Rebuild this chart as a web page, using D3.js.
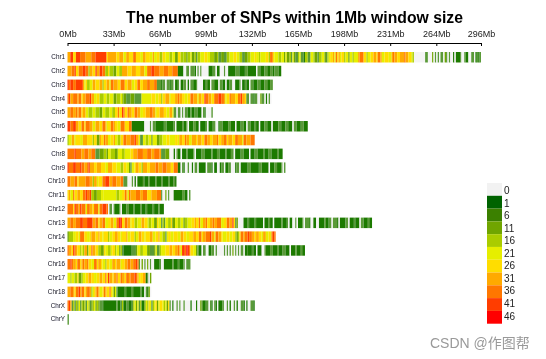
<!DOCTYPE html>
<html>
<head>
<meta charset="utf-8">
<script src="https://d3js.org/d3.v7.min.js"></script>
<style>
  body { margin: 0; background: #fff; }
  svg { display: block; font-family: "Liberation Sans", Arial, sans-serif; }
</style>
</head>
<body>
<div id="container"></div>
<script>
/* DATA - [SNP count, run length in Mb] read along each chromosome */
const chrNames = ["Chr1","Chr2","Chr3","Chr4","Chr5","Chr6","Chr7","Chr8","Chr9","Chr10","Chr11","Chr12","Chr13","Chr14","Chr15","Chr16","Chr17","Chr18","ChrX","ChrY"]
const tickMb = [0,33,66,99,132,165,198,231,264,296]
const legendValues = [0,1,6,11,16,21,26,31,36,41,46]
const legendColors = ["#f2f2f2","#006400","#3a8000","#6fa500","#aacc00","#e6ee00","#ffdd00","#ffaa00","#ff7700","#ff3c00","#ff0000"]
// the bars are washed out by resampling in the reference, greens read lighter than the legend
const barColors = ["#f4f4f4","#1f7a05","#5a9a38","#6fa500","#aacc00","#e6ee00","#ffdd00","#ffaa00","#ff7700","#ff3c00","#ff0000"]

const chr1 = [[31,2],[41,2],[26,2],[41,3],[36,4],[31,4],[36,3],[41,8],[26,1],[31,6],[26,2],[31,3],[21,2],[31,2],[26,3],[36,2],[26,3],[21,2],[31,2],[26,3],[21,2],[31,1],[21,2],[26,2],[16,2],[26,2],[21,3],[16,2],[21,2],[11,2],[26,2],[16,2],
  [16,2],[11,1],[16,2],[21,1],[11,2],[16,1],[6,1],[16,2],[21,3],[26,2],[21,2],[16,3],[11,2],[16,1],[6,2],[11,2],[6,2],[16,2],[21,3],[26,2],[21,2],[16,2],[6,2],[11,2],[16,2],[21,3],[26,1],[21,2],[16,1],
  [21,4],[26,2],[16,1],[36,2],[26,1],[21,3],[16,2],[21,2],[11,1],[21,1],[11,2],[16,1],[6,1],[21,1],[11,1],[6,2],[16,1],[21,1],[6,2],[1,1],[16,2],[6,2],[21,2],[16,1],[11,2],[6,1],[16,2],[21,2],[11,1],[6,1],[16,1],[21,1],[26,2],[31,1],[21,1],[36,1],[26,1],[31,1],[21,1],[26,2],[16,1],[21,2],[11,1],[21,2],[16,1],
  [21,3],[31,1],[36,3],[26,2],[16,1],[21,2],[26,2],[31,2],[26,1],[36,2],[31,1],[21,2],[26,3],[21,2],[31,1],[36,1],[31,2],[26,2],[31,3],[36,1],[31,2],[26,2],[21,1],[16,1],
  [0,8],[6,2],[0,3],[11,1],[0,1],[6,1],[0,1],[6,1],[0,1],[6,2],[0,1],[11,1],[6,1],[0,1],[6,1],[0,2],[1,1],[0,1],[1,3],[6,1],[0,2],[6,1],[1,2],[0,2],[6,2],[0,1],[1,1],[6,1],[1,1],[6,1]]
const chr2 = [[31,3],[36,2],[41,1],[26,2],[36,3],[41,2],[36,2],[16,1],[31,2],[26,2],[41,1],[31,2],[41,2],[36,2],[16,2],[26,1],[16,3],[11,2],[21,2],[16,2],[31,4],[26,3],[31,3],[26,3],[31,3],[21,2],[36,3],[41,2],[36,4],[31,3],[36,3],[31,3],[36,4],
  [1,4],[0,2],[6,2],[0,1],[6,3],[1,1],[0,1],[6,1],[0,1],[6,1],[0,5],[1,3],[6,2],[0,1],[1,2],[0,3],[6,1],[0,2],[1,5],[6,3],[1,4],[6,2],[1,6],[0,1],[6,2],[1,3],[6,2],[1,2],[6,2],[1,1],[6,3],[1,2]]
const chr3 = [[41,1],[36,1],[41,2],[36,2],[41,5],[31,1],[21,1],[26,1],[16,2],[21,2],[31,2],[26,3],[31,2],[16,1],[26,2],[31,2],[21,1],[36,2],[31,3],[26,2],[36,3],[26,2],[31,3],[21,2],[26,2],[36,2],[26,2],[31,3],[36,2],[31,3],[36,2],
  [6,3],[1,1],[6,2],[0,1],[6,2],[1,1],[6,2],[0,1],[1,2],[6,1],[0,1],[1,2],[6,2],[0,1],[1,1],[0,1],[6,2],[1,2],[6,1],[0,4],[1,2],[6,1],[1,2],[0,1],[6,2],[1,3],[0,1],[6,2],[1,2],[0,1],[1,2],[6,2],[0,2],[1,3],[6,1],[0,1],[1,2],[6,1],[1,2],[0,1],[6,2],[1,3],[6,2],[1,3],[6,2],[1,2],[6,2]]
const chr4 = [[36,1],[41,1],[31,2],[36,3],[31,1],[36,2],[26,1],[31,2],[36,3],[41,1],[31,2],[21,2],[26,2],[16,3],[21,2],[16,2],[21,3],[11,2],[16,3],[21,1],[16,1],[11,2],[6,3],[11,3],[6,5],
  [21,7],[26,3],[21,2],[26,2],[16,1],[26,2],[31,3],[21,1],[26,3],[31,2],[36,1],[31,2],[26,2],[21,2],[26,2],[36,2],[31,3],[21,1],[31,2],[26,2],[41,1],[36,2],[31,2],[26,2],[36,3],[41,2],[36,2],[31,1],[21,1],[26,2],[36,1],[31,3],[26,2],[36,2],[41,1],[31,2],[26,1],
  [6,2],[0,1],[6,2],[1,1],[6,2],[0,2],[11,1],[6,2],[0,1],[1,1],[0,1],[6,1],[0,1]]
const chr5 = [[31,2],[36,2],[31,2],[36,1],[31,1],[36,2],[26,1],[31,2],[21,2],[16,3],[21,2],[16,3],[11,2],[21,2],[16,3],[21,2],[16,2],[26,2],[36,1],[26,2],[41,1],[36,1],[26,2],[36,1],[31,2],[26,2],[36,2],[31,2],[21,2],[26,2],[31,3],[36,2],[31,2],[21,1],[26,2],[31,3],[26,2],[21,2],[31,2],[21,1],
  [6,2],[0,1],[6,2],[0,1],[6,1],[0,1],[6,2],[1,2],[6,1],[1,2],[6,2],[1,3],[0,1],[6,1],[1,1],[0,1],[0,3],[6,1]]
const chr6 = [[41,2],[36,2],[41,2],[31,2],[26,2],[36,2],[26,1],[36,3],[31,2],[21,2],[31,3],[26,2],[36,2],[31,1],[21,1],[26,2],[36,2],[31,1],[26,2],[21,2],[36,3],[26,3],[36,2],
  [1,9],[0,4],[6,1],[0,1],[6,2],[1,6],[6,2],[1,5],[6,1],[0,1],[1,4],[6,1],[1,2],[6,1],[0,1],[1,3],[6,2],[1,2],[0,1],[1,4],[6,1],[0,1],[1,3],[6,2],[0,2],[1,1],[6,2],
  [1,4],[6,2],[1,3],[0,1],[1,3],[6,2],[1,2],[0,1],[6,2],[1,3],[6,1],[1,2],[0,1],[1,3],[6,2],[1,3],[0,1],[1,4],[6,2],[1,3],[6,2],[1,3],[0,1],[6,2],[1,3],[6,2],[1,3]]
const chr7 = [[16,1],[21,2],[31,2],[21,1],[26,3],[21,2],[31,3],[26,4],[16,1],[26,2],[11,2],[31,1],[26,2],[36,1],[31,2],[21,2],[26,2],[31,1],[21,2],[16,2],[26,2],[36,2],[31,3],[36,3],[41,1],[31,2],[21,1],[6,2],[21,2],[16,2],[21,2],[11,1],[21,3],[11,2],[16,2],[21,3],[26,2],[21,4],[26,2],[21,1],[31,2],[26,2],[36,1],[31,2],[21,2],[31,3],[26,1],[31,3],[26,2],[36,2],[31,2],[26,2],[31,3],[36,1],[26,2],[31,2],[36,2],[26,1],[31,3],[26,2],[36,2],[31,3],[21,1],[36,2],[31,3],[36,3]]
const chr8 = [[36,5],[41,1],[36,4],[31,2],[36,3],[31,2],[36,3],[6,3],[11,3],[16,2],[11,1],[21,2],[16,3],[11,2],[21,3],[16,2],[21,4],[26,2],[31,3],[36,4],[31,3],[36,3],[31,2],[36,4],[31,1],
  [6,3],[11,3],[0,3],[1,1],[0,1],[6,1],[1,2],[0,1],[1,3],[6,1],[1,4],[6,1],[0,1],[1,4],[6,2],[1,5],[6,1],[1,3],[6,2],[1,4],[6,1],[1,3],[6,2],[0,1],[1,4],[6,2],[1,4],[0,1],[1,3],[6,2],[1,4],[6,1],[1,3],[6,2],[1,4],[6,1],[1,3]]
const chr9 = [[41,1],[36,3],[41,2],[36,3],[41,1],[36,2],[31,2],[36,1],[41,1],[31,3],[26,2],[31,3],[26,3],[21,2],[31,3],[26,3],[21,3],[16,2],[26,2],[21,2],[11,1],[6,1],[21,2],[26,1],[31,2],[26,2],[16,1],[31,3],[26,2],[31,4],[36,2],[31,3],[36,3],[31,3],[26,2],[36,3],
  [1,2],[0,1],[6,1],[1,1],[0,2],[6,1],[0,2],[1,1],[0,1],[6,2],[0,1],[1,5],[0,1],[6,3],[1,1],[0,1],[1,2],[0,2],[1,1],[6,2],[0,1],[1,2],[6,2],[0,3],[1,1],[6,2],[0,1],[1,5],[6,2],[1,6],[6,2],[1,5],[0,1],[1,3],[6,2],[1,3],[6,1],[0,1],[6,1]]
const chr10 = [[36,2],[31,3],[36,2],[26,1],[31,5],[36,3],[31,2],[16,1],[31,2],[21,1],[26,3],[36,2],[41,3],[31,2],[36,3],[31,3],[36,2],
  [6,3],[0,3],[6,1],[0,1],[1,1],[0,1],[1,4],[6,1],[1,3],[6,1],[1,4],[6,1],[1,3],[6,1],[1,4],[6,1],[1,3],[6,1],[1,1]]
const chr11 = [[26,1],[31,1],[21,2],[36,1],[26,2],[31,2],[26,2],[36,2],[41,1],[36,2],[41,1],[16,2],[11,2],[16,3],[21,2],[21,9],[16,2],[21,2],[26,2],[36,1],[31,1],[21,1],[36,1],[31,4],[36,3],[31,2],[36,3],[26,3],[31,4],[36,3],
  [6,1],[0,2],[11,1],[0,1],[6,1],[0,3],[1,6],[6,2],[1,2],[0,1],[6,1]]
const chr12 = [[36,4],[26,1],[41,1],[36,2],[31,1],[41,1],[36,3],[21,1],[36,2],[31,2],[26,1],[36,3],[21,1],[36,2],[41,3],[36,1],
  [0,1],[6,2],[0,1],[6,1],[1,3],[6,1],[0,1],[1,3],[6,2],[1,3],[6,1],[1,4],[6,1],[1,3],[6,1],[1,4],[6,1],[1,3],[6,1],[1,3]]
const chr13 = [[31,2],[36,2],[31,2],[36,3],[41,2],[36,3],[41,4],[31,2],[36,2],[26,1],[31,2],[36,2],[21,2],[26,2],[31,2],[21,2],[36,2],[46,1],[41,1],[26,2],[36,2],[31,2],[21,1],[26,2],[16,2],[21,3],[31,2],[26,2],[21,1],[16,2],[21,2],[11,2],[26,1],[21,2],[6,1],[16,1],[6,1],[21,2],[16,2],[26,1],[11,2],[21,2],[16,2],[21,2],[11,1],[16,2],[21,3],[26,2],[31,1],[26,2],[36,1],[21,2],[31,2],[36,1],[26,2],[31,2],[36,1],[31,2],[36,3],[21,2],[26,2],[36,2],[31,2],[41,1],[26,1],
  [6,1],[11,1],[0,4],[1,3],[6,1],[1,4],[6,1],[1,5],[0,1],[1,3],[6,1],[1,2],[0,1],[1,5],[6,1],[1,3],[6,1],[0,1],[1,2],[0,2],[6,1],[0,1],[1,3],[6,1],[0,1],[6,3],[1,1],[0,2],[1,2],[0,2],[1,4],[6,1],[1,2],[6,2],[0,1],[6,3],[1,1],[0,1],[1,4],[6,2],[0,1],[1,3],[6,1],[1,3],[0,1],[6,2],[1,3],[6,1],[1,2]]
const chr14 = [[11,1],[16,3],[21,2],[26,2],[21,1],[36,3],[26,2],[21,2],[26,1],[31,3],[26,2],[31,1],[26,2],[21,1],[26,3],[16,1],[21,2],[26,2],[31,2],[26,2],[21,1],[26,3],[31,1],[21,2],[26,3],[16,1],[21,2],[31,2],[26,2],[21,1],[26,3],[31,2],[21,2],[26,2],[31,1],[21,2],[16,2],[6,1],[21,1],[26,2],[21,2],[26,3],[21,2],[31,2],[26,2],[21,2],[26,3],[31,2],[26,2],[36,2],[26,1],[31,2],[36,3],[41,1],[31,2],[21,1],[36,2],[31,2],[26,1],[21,3],[26,2],
  [21,2],[26,2],[16,1],[11,1],[16,1],[26,1],[36,2],[31,1],[36,2],[41,1],[36,2],[31,2],[26,1],[31,2],[26,2],[21,1],[31,2],[21,2],[26,1],[21,1],[36,1],[41,1],[36,1]]
const chr15 = [[36,1],[31,2],[26,1],[41,1],[36,1],[31,1],[26,2],[16,1],[21,1],[16,1],[31,2],[11,1],[26,2],[36,1],[31,2],[26,2],[16,2],[11,2],[26,1],[21,2],[16,2],[21,1],[26,2],[16,1],[21,2],[11,1],[16,1],[6,1],[1,6],[6,3],[11,1],
  [21,2],[16,2],[21,3],[11,2],[6,3],[11,1],[21,1],[6,2],[16,1],[21,3],[26,3],[31,2],[26,2],[31,2],[36,1],[31,1],[21,1],[41,2],[36,1],[46,1],[41,1],[36,1],[26,2],[21,2],[11,1],[6,1],
  [1,2],[0,1],[6,2],[0,2],[1,2],[6,2],[0,1],[6,1],[0,5],[6,1],[0,1],[6,1],[0,1],[6,1],[0,1],[11,1],[0,1],[6,1],[0,1],[6,1],[0,1],[6,2],[0,1],[1,2],[1,3],[6,1],[1,2],[0,1],[1,3],[0,2],[6,1],[1,3],[6,2],[1,3],[6,1],[1,3],[6,2],[1,3],[0,1],[1,3],[6,1],[1,3],[6,1],[1,2]]
const chr16 = [[36,2],[41,1],[36,1],[31,2],[26,1],[36,2],[26,1],[31,1],[36,1],[31,2],[36,1],[26,2],[21,2],[36,2],[26,1],[31,2],[26,1],[21,2],[16,1],[26,2],[21,2],[31,2],[26,1],[31,3],[21,1],[26,2],[31,2],[36,2],[31,2],[36,2],[41,1],[36,1],
  [6,1],[0,1],[11,1],[0,1],[6,1],[0,1],[11,1],[0,1],[6,1],[0,2],[1,4],[6,1],[0,2],[1,6],[6,1],[1,3],[6,1],[1,3],[6,1],[0,1],[6,3]]
const chr17 = [[21,2],[16,1],[21,2],[16,2],[26,1],[11,2],[16,1],[21,2],[26,2],[31,2],[26,2],[21,2],[26,2],[31,2],[26,2],[36,1],[26,1],[41,1],[31,2],[26,1],[31,2],[36,1],[26,2],[36,1],[31,2],[26,1],[36,2],[31,1],[36,3],[41,1],[36,1],[31,1],[21,1],[26,2],[31,2],[1,1],[6,1],[0,1],[11,1]]
const chr18 = [[31,2],[36,2],[31,1],[26,1],[36,2],[41,1],[31,1],[36,2],[26,1],[31,1],[36,2],[31,1],[16,1],[21,1],[26,1],[31,1],[36,1],[31,1],[21,2],[26,1],[36,1],[31,1],[26,2],[36,1],[26,1],[21,1],[11,1],[21,1],[6,1],
  [1,5],[6,1],[1,4],[6,1],[1,5],[6,1],[1,2],[0,1],[6,1],[1,1],[11,1],[0,1]]
const chrX = [[36,1],[41,1],[31,1],[6,1],[16,1],[6,1],[16,1],[11,1],[21,1],[6,1],[16,1],[11,1],[16,1],[6,1],[21,1],[16,1],[6,1],[11,1],[16,1],[21,1],[11,1],[16,1],[11,1],[6,2],[1,1],
  [1,9],[6,1],[1,2],[6,1],[16,1],[1,2],[6,2],[1,2],[6,1],[16,1],[21,1],[11,1],[21,1],[6,1],[16,1],[1,2],[11,1],[21,1],[16,1],[26,1],[21,1],[6,1],[16,1],[21,1],[26,1],[11,1],[21,1],[26,2],[21,1],[16,1],[21,1],[11,1],[26,1],[6,1],
  [0,1],[1,1],[0,2],[6,1],[0,1],[6,1],[0,2],[6,1],[0,4],[1,1],[0,3],[1,1],[0,2],[11,1],[6,1],[1,2],[6,2],[0,1],[6,1],[1,1],[0,1],[6,1],[1,1],[0,1],[1,3],[6,1],[0,2],[6,1],[0,1],[1,1],[0,2],[6,1],[0,1],[1,1],[0,2],[6,2],[1,1],[0,1],[1,1],[0,2],[6,2],[1,1]]
const chrY = [[6,1]]
const chrRuns = [chr1,chr2,chr3,chr4,chr5,chr6,chr7,chr8,chr9,chr10,chr11,chr12,chr13,chr14,chr15,chr16,chr17,chr18,chrX,chrY]

/* SCALES */
const width = 546, height = 359
const xScale = d3.scaleLinear().domain([0, 296]).range([67.5, 481])
const yScale = d3.scaleBand().domain(chrNames).range([52, 324.7]).paddingInner(0.24)
const colorScale = d3.scaleOrdinal().domain(legendValues).range(legendColors)
const barColor = d3.scaleOrdinal().domain(legendValues).range(barColors)
const legendY = d3.scaleBand().domain(legendValues).range([183, 323.7])
const legendText = d3.scalePoint().domain(legendValues).range([190.5, 316])

/* HTML ELEMENTS */
const svg = d3.select("#container").append("svg")
  .attr("width", width)
  .attr("height", height)

// slight softness, the reference is a resampled screenshot
svg.append("filter").attr("id", "soft")
  .append("feGaussianBlur").attr("stdDeviation", 0.35)
svg.append("filter").attr("id", "softer")
  .append("feGaussianBlur").attr("stdDeviation", "0.6 0.45")
const chart = svg.append("g").attr("filter", "url(#soft)")

// title
chart.append("text")
  .attr("x", 294.5).attr("y", 23)
  .attr("text-anchor", "middle")
  .attr("font-size", 15.75).attr("font-weight", "bold")
  .attr("fill", "#000")
  .text("The number of SNPs within 1Mb window size")

// axis - ticks hang below the line, labels sit above it
const xAxis = d3.axisTop(xScale)
  .tickValues(tickMb)
  .tickFormat(d => d + "Mb")
  .tickSizeInner(-3)
  .tickSizeOuter(0)
  .tickPadding(6)
const axisG = chart.append("g")
  .attr("transform", "translate(0,43)")
  .call(xAxis)
axisG.selectAll("text").attr("font-size", 9).attr("font-family", "Liberation Sans").attr("fill", "#222")
axisG.selectAll("line, path").attr("stroke", "#000")

// chromosome rows
const rowData = chrNames.map((name, i) => {
  let start = 0
  const cells = chrRuns[i].map(([snps, len]) => {
    const c = { snps, start, end: start + len, name }
    start += len
    return c
  })
  return { name, cells }
})

const bars = svg.append("g").attr("filter", "url(#softer)")
bars.selectAll("g")
  .data(rowData)
  .join("g")
  .selectAll("rect")
  .data(d => d.cells)
  .join("rect")
  .attr("x", d => xScale(d.start))
  .attr("y", d => yScale(d.name))
  .attr("width", d => xScale(d.end) - xScale(d.start))
  .attr("height", yScale.bandwidth())
  .attr("fill", d => barColor(d.snps))

chart.selectAll(".chr-label")
  .data(chrNames)
  .join("text")
  .attr("class", "chr-label")
  .attr("x", 65)
  .attr("y", d => yScale(d) + yScale.bandwidth() / 2 + 2)
  .attr("text-anchor", "end")
  .attr("font-size", 6.3)
  .attr("fill", "#112")
  .text(d => d)

// legend
chart.selectAll(".legend-cell")
  .data(legendValues)
  .join("rect")
  .attr("class", "legend-cell")
  .attr("x", 487)
  .attr("y", d => legendY(d))
  .attr("width", 15)
  .attr("height", legendY.bandwidth())
  .attr("fill", d => colorScale(d))

chart.selectAll(".legend-label")
  .data(legendValues)
  .join("text")
  .attr("class", "legend-label")
  .attr("x", 504)
  .attr("y", d => legendText(d) + 3.5)
  .attr("font-size", 10)
  .attr("fill", "#222")
  .text(d => d)

// watermark
chart.append("text")
  .attr("x", 430).attr("y", 348)
  .attr("font-size", 14)
  .attr("font-family", "'Liberation Sans','Noto Sans CJK SC'")
  .attr("fill", "#999")
  .text("CSDN @作图帮")
</script>
</body>
</html>
